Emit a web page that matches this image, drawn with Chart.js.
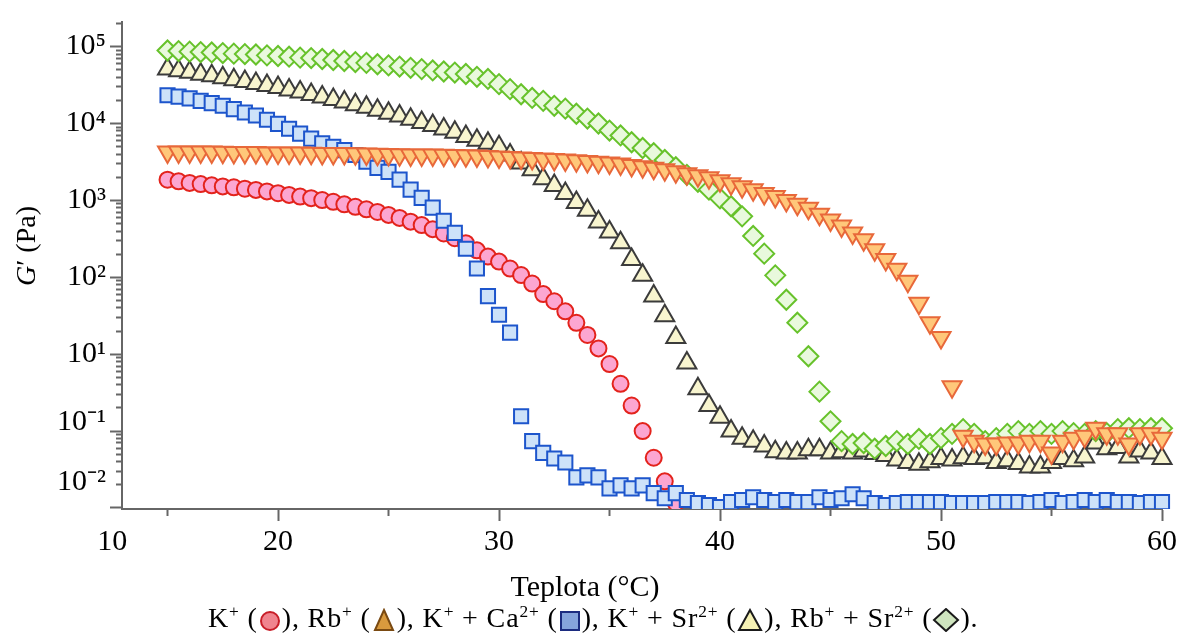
<!DOCTYPE html>
<html>
<head>
<meta charset="utf-8">
<script src="https://cdn.jsdelivr.net/npm/chart.js@4.4.1/dist/chart.umd.min.js"></script>
<style>
  body { margin: 0; background: #fff; }
  #wrap { position: relative; width: 1180px; height: 636px; font-family: 'Liberation Serif', serif; color: #000; }
  #wrap canvas { position: absolute; left: 0; top: 0; }
  .cap { position: absolute; white-space: nowrap; line-height: 1; }
  #ytitle { left: 26px; top: 246px; font-size: 28px; transform: translate(-50%, -50%) rotate(-90deg); }
  #xtitle { left: 585px; top: 586px; font-size: 30px; transform: translate(-50%, -50%); }
  #legend { left: 208px; top: 618px; font-size: 28px; letter-spacing: 0.85px; transform: translateY(-50%); }
  #legend sup { font-size: 0.62em; line-height: 0; vertical-align: 0.55em; }
  #legend svg { vertical-align: -5px; }
</style>
</head>
<body>
<div id="wrap">
  <canvas id="chart" width="1180" height="636"></canvas>
  <div class="cap" id="ytitle"><i>G</i>′ (Pa)</div>
  <div class="cap" id="xtitle">Teplota (°C)</div>
  <div class="cap" id="legend">K<sup>+</sup> (<svg width="24" height="24" viewBox="0 0 24 24"><circle cx="12" cy="13" r="9" fill="#f0848e" stroke="#c81e28" stroke-width="2"/></svg>), Rb<sup>+</sup> (<svg width="26" height="24" viewBox="0 0 26 24"><polygon points="13,2 22,22 4,22" fill="#d99a3e" stroke="#7a4a12" stroke-width="2"/></svg>), K<sup>+</sup> + Ca<sup>2+</sup> (<svg width="24" height="24" viewBox="0 0 24 24"><rect x="3" y="4" width="18" height="18" fill="#86a4dc" stroke="#1c2c80" stroke-width="2"/></svg>), K<sup>+</sup> + Sr<sup>2+</sup> (<svg width="28" height="24" viewBox="0 0 28 24"><polygon points="14,2 25,22 3,22" fill="#f5f1b4" stroke="#1a1a1a" stroke-width="2"/></svg>), Rb<sup>+</sup> + Sr<sup>2+</sup> (<svg width="28" height="24" viewBox="0 0 28 24"><polygon points="14,1 26,12 14,23 2,12" fill="#cfe5bf" stroke="#1a1a1a" stroke-width="2"/></svg>).</div>
</div>
<script>
// temperature steps (°C), shared by all series
const temps = [15, 15.5, 16, 16.5, 17, 17.5, 18, 18.5, 19, 19.5,
  20, 20.5, 21, 21.5, 22, 22.5, 23, 23.5, 24, 24.5,
  25, 25.5, 26, 26.5, 27, 27.5, 28, 28.5, 29, 29.5,
  30, 30.5, 31, 31.5, 32, 32.5, 33, 33.5, 34, 34.5,
  35, 35.5, 36, 36.5, 37, 37.5, 38, 38.5, 39, 39.5,
  40, 40.5, 41, 41.5, 42, 42.5, 43, 43.5, 44, 44.5,
  45, 45.5, 46, 46.5, 47, 47.5, 48, 48.5, 49, 49.5,
  50, 50.5, 51, 51.5, 52, 52.5, 53, 53.5, 54, 54.5,
  55, 55.5, 56, 56.5, 57, 57.5, 58, 58.5, 59, 59.5,
  60];

// G' (Pa)
const gK = [1860, 1770, 1690, 1630, 1570, 1520, 1480, 1420, 1370, 1310,
  1240, 1180, 1120, 1070, 1010, 959, 889, 826, 767, 708,
  648, 592, 529, 478, 423, 372, 322, 278, 224, 186,
  160, 130, 107, 83, 60.5, 48.8, 36.1, 25.6, 17.8, 11.9,
  7.45, 4.12, 2.15, 1.0, 0.45, 0.222, 0.116];

const gRb = [4250, 4250, 4250, 4250, 4250, 4220, 4190, 4190, 4190, 4150,
  4120, 4120, 4120, 4090, 4060, 4060, 4060, 4030, 4000, 3970,
  3950, 3920, 3890, 3890, 3890, 3860, 3830, 3800, 3780, 3720,
  3660, 3610, 3560, 3500, 3450, 3400, 3350, 3280, 3210, 3140,
  3070, 2980, 2850, 2730, 2610, 2500, 2350, 2220, 2090, 1970,
  1800, 1650, 1510, 1380, 1230, 1120, 1000, 889, 789, 662,
  555, 465, 378, 307, 229, 170, 127, 89, 46, 25.7,
  16.5, 3.78, 0.86, 0.74, 0.68, 0.68, 0.70, 0.70, 0.74, 0.74,
  0.52, 0.74, 0.81, 0.86, 1.09, 0.92, 0.92, 0.68, 0.92, 0.92,
  0.81];

const gKCa = [23300, 22400, 21200, 19700, 18400, 17000, 15400, 13900, 12700, 11200,
  9900, 8550, 7380, 6370, 5540, 4970, 4510, 3890, 3190, 2650,
  2350, 1860, 1380, 1080, 806, 543, 378, 235, 130, 57,
  32.6, 19.1, 1.56, 0.74, 0.52, 0.44, 0.39, 0.25, 0.265, 0.25,
  0.18, 0.197, 0.18, 0.197, 0.156, 0.134, 0.156, 0.127, 0.116, 0.109,
  0.103, 0.119, 0.127, 0.138, 0.127, 0.119, 0.127, 0.119, 0.119, 0.138,
  0.127, 0.134, 0.151, 0.134, 0.116, 0.109, 0.116, 0.119, 0.119, 0.119,
  0.119, 0.116, 0.116, 0.116, 0.116, 0.119, 0.119, 0.119, 0.116, 0.119,
  0.127, 0.116, 0.119, 0.127, 0.119, 0.127, 0.119, 0.119, 0.116, 0.119,
  0.119];

const gKSr = [51200, 48500, 46400, 43800, 41900, 39500, 37200, 35100, 33100, 31200,
  29400, 27300, 25700, 23900, 22200, 20600, 19100, 17500, 16300, 14900,
  13600, 12500, 11400, 10300, 9400, 8500, 7670, 6800, 6050, 5540,
  4970, 3890, 3070, 2500, 1910, 1560, 1230, 942, 745, 522,
  389, 281, 170, 106, 57, 31.6, 16.5, 7.7, 3.56, 2.15,
  1.51, 1.0, 0.81, 0.74, 0.64, 0.54, 0.52, 0.52, 0.57, 0.57,
  0.52, 0.54, 0.52, 0.55, 0.51, 0.48, 0.42, 0.39, 0.37, 0.40,
  0.44, 0.42, 0.45, 0.44, 0.45, 0.39, 0.41, 0.38, 0.34, 0.34,
  0.39, 0.44, 0.41, 0.46, 0.70, 0.59, 0.61, 0.46, 0.55, 0.52,
  0.44];

const gRbSr = [89000, 87500, 86000, 85000, 84000, 82500, 81000, 80000, 79000, 77000,
  75500, 74000, 72000, 71000, 69000, 67000, 65000, 63000, 61500, 59000,
  57000, 55000, 53000, 51000, 49000, 47500, 46000, 44000, 40500, 38000,
  32500, 28000, 24000, 21500, 19700, 17000, 15600, 13400, 11600, 10000,
  8100, 7000, 5700, 4800, 4100, 3350, 2700, 2150, 1750, 1380,
  1060, 840, 620, 345, 203, 106, 51, 25.7, 9.4, 3.26,
  1.34, 0.74, 0.68, 0.70, 0.59, 0.64, 0.74, 0.68, 0.79, 0.68,
  0.81, 0.92, 1.06, 0.92, 0.74, 0.81, 0.92, 1.0, 0.92, 1.0,
  0.92, 1.0, 0.94, 0.92, 1.0, 0.94, 1.06, 1.09, 1.06, 1.09,
  1.09];

// axis ticks as printed
const xTickValues = [12.5, 15, 20, 25, 30, 35, 40, 45, 50, 55, 60];
const xTickLabels = ['10', '', '20', '', '30', '', '40', '', '50', '', '60'];
const yLabelValues = [1e5, 1e4, 1e3, 1e2, 1e1, 1.3, 0.22];
const yTickLabels = ['10⁵', '10⁴', '10³', '10²', '10¹', '10⁻¹', '10⁻²'];

function toPoints(values) {
  return values.map((v, i) => ({ x: temps[i], y: v }));
}

function findLabel(value) {
  return yLabelValues.findIndex(v => Math.abs(v - value) <= v * 1e-6);
}

const clipBottom = { left: false, top: false, right: false, bottom: 0 };

const datasets = [
  { label: 'K+', data: toPoints(gK), pointStyle: 'circle', pointRadius: 8,
    pointBackgroundColor: '#fca6d1', pointBorderColor: '#e3231c', order: 4 },
  { label: 'Rb+', data: toPoints(gRb), pointStyle: 'triangle', pointRotation: 180, pointRadius: 11,
    pointBackgroundColor: '#ffc77a', pointBorderColor: '#e8683a', order: 0 },
  { label: 'K+ + Ca2+', data: toPoints(gKCa), pointStyle: 'rect', pointRadius: 10,
    pointBackgroundColor: '#cde2f9', pointBorderColor: '#1d55cc', order: 3 },
  { label: 'K+ + Sr2+', data: toPoints(gKSr), pointStyle: 'triangle', pointRadius: 11,
    pointBackgroundColor: '#f8f5cf', pointBorderColor: '#3b3b3b', order: 2 },
  { label: 'Rb+ + Sr2+', data: toPoints(gRbSr), pointStyle: 'rectRot', pointRadius: 10,
    pointBackgroundColor: '#e9f9dd', pointBorderColor: '#67c22b', order: 1 },
];
datasets.forEach(d => { d.pointBorderWidth = 2; d.showLine = false; d.clip = clipBottom; });

const tickFont = { family: 'Liberation Serif', size: 30 };

new Chart(document.getElementById('chart'), {
  type: 'scatter',
  data: { datasets },
  options: {
    responsive: false,
    animation: false,
    events: [],
    layout: { padding: { left: 0, top: 15, right: 18, bottom: 0 } },
    plugins: { legend: { display: false }, tooltip: { enabled: false } },
    scales: {
      x: {
        type: 'linear',
        min: 12.94,
        max: 60,
        bounds: 'data',
        afterBuildTicks(scale) {
          scale.ticks = xTickValues.map((v, i) => ({
            value: v,
            kind: i === 0 ? 'label' : (v % 10 === 0 ? 'major' : 'minor')
          }));
        },
        afterFit(scale) { scale.height = 127; },
        ticks: {
          autoSkip: false,
          maxRotation: 0,
          padding: 3,
          color: '#000',
          font: tickFont,
          callback: (value, index) => xTickLabels[index]
        },
        grid: {
          drawOnChartArea: false,
          tickLength: 12,
          tickWidth: 2,
          tickColor: c => (c.tick && c.tick.kind === 'label') ? 'rgba(0,0,0,0)' : '#666',
          tickBorderDash: c => (c.tick && c.tick.kind === 'minor') ? [6, 100] : []
        },
        border: { display: true, color: '#666', width: 2 }
      },
      y: {
        type: 'logarithmic',
        min: 0.097,
        max: 209000,
        bounds: 'data',
        afterBuildTicks(scale) {
          const ticks = [];
          for (let e = -1; e <= 5; e++) {
            for (let m = 1; m <= 9; m++) {
              const v = m * Math.pow(10, e);
              if (v >= scale.min && v <= scale.max) {
                ticks.push({ value: v, kind: m === 1 ? 'major' : 'minor' });
              }
            }
          }
          yLabelValues.forEach(v => {
            if (!ticks.some(t => Math.abs(t.value - v) <= v * 1e-6)) {
              ticks.push({ value: v, kind: 'label' });
            }
          });
          ticks.sort((a, b) => a.value - b.value);
          scale.ticks = ticks;
        },
        afterFit(scale) { scale.width = 122; },
        ticks: {
          autoSkip: false,
          padding: 4,
          color: '#000',
          font: tickFont,
          callback: value => {
            const i = findLabel(value);
            return i >= 0 ? yTickLabels[i] : '';
          }
        },
        grid: {
          drawOnChartArea: false,
          tickLength: 12,
          tickWidth: 2,
          tickColor: c => (c.tick && c.tick.kind === 'label') ? 'rgba(0,0,0,0)' : '#666',
          tickBorderDash: c => (c.tick && c.tick.kind === 'minor') ? [0, 6, 6, 100] : []
        },
        border: { display: true, color: '#666', width: 2 }
      }
    }
  }
});
</script>
</body>
</html>
